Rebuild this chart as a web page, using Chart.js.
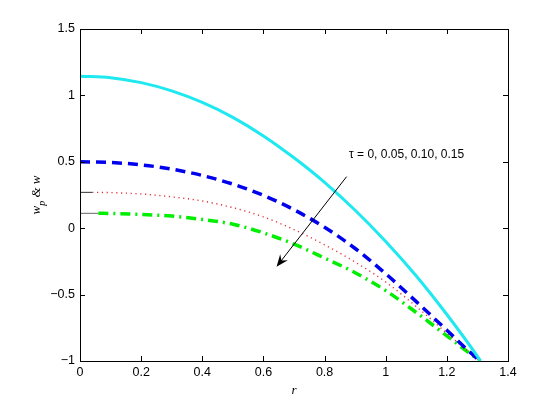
<!DOCTYPE html>
<html>
<head>
<meta charset="utf-8">
<script src="https://cdn.jsdelivr.net/npm/chart.js@4.4.1/dist/chart.umd.min.js"></script>
<style>
  html, body { margin: 0; padding: 0; background: #fff; }
  #wrap { width: 543px; height: 409px; }
</style>
</head>
<body>
<div id="wrap"><canvas id="chart" width="543" height="409"></canvas></div>
<script>
// values
const rAll = [0, 0.1, 0.2, 0.3, 0.4, 0.5, 0.6, 0.7, 0.8, 0.9, 1.0, 1.1, 1.2, 1.3, 1.31];
const tau0 = [1.145, 1.133, 1.096, 1.034, 0.947, 0.835, 0.695, 0.53, 0.345, 0.135, -0.10, -0.36, -0.65, -0.965, -1.0];
const tau05 = [0.50, 0.495, 0.477, 0.445, 0.397, 0.332, 0.247, 0.139, 0.007, -0.153, -0.343, -0.553, -0.768, -0.983, -1.0];

const rRed = [0.04, 0.1, 0.2, 0.3, 0.4, 0.5, 0.6, 0.7, 0.8, 0.9, 1.0, 1.1, 1.2, 1.3, 1.31];
const tau10 = [0.27, 0.268, 0.258, 0.236, 0.205, 0.155, 0.085, -0.01, -0.125, -0.255, -0.405, -0.59, -0.79, -0.985, -1.0];

const rGreen = [0.06, 0.1, 0.2, 0.3, 0.4, 0.5, 0.6, 0.7, 0.8, 0.9, 1.0, 1.1, 1.2, 1.3, 1.31];
const tau15 = [0.112, 0.111, 0.104, 0.091, 0.066, 0.03, -0.035, -0.12, -0.225, -0.335, -0.47, -0.635, -0.81, -0.985, -1.0];

// short thin leads at the left edge
const leadRedR = [0, 0.04];
const leadRedV = [0.27, 0.27];
const leadGreenR = [0, 0.06];
const leadGreenV = [0.112, 0.112];

const xTicks = [0, 0.2, 0.4, 0.6, 0.8, 1, 1.2, 1.4];
const yTicks = [-1, -0.5, 0, 0.5, 1, 1.5];

const noteText = 'τ = 0, 0.05, 0.10, 0.15';
const notePos = { x: 0.88, y: 0.55 };
const arrowFrom = { x: 0.872, y: 0.388 };
const arrowTo = { x: 0.643, y: -0.29 };

function pts(xs, ys) {
    return xs.map((x, i) => ({ x: x, y: ys[i] }));
}

const FONT = '"Liberation Sans", Arial, sans-serif';
const SERIF = '"Liberation Serif", "Times New Roman", serif';

// MATLAB-style box with inward ticks, labels and the arrow note
const axesPlugin = {
    id: 'axesPlugin',
    afterDraw(chart) {
        const ctx = chart.ctx;
        const a = chart.chartArea;
        const xs = chart.scales.x;
        const ys = chart.scales.y;
        ctx.save();
        ctx.strokeStyle = '#000';
        ctx.lineWidth = 1;
        ctx.strokeRect(a.left + 0.5, a.top + 0.5, a.right - a.left, a.bottom - a.top);

        ctx.beginPath();
        xTicks.forEach(t => {
            const px = Math.round(xs.getPixelForValue(t)) + 0.5;
            ctx.moveTo(px, a.bottom); ctx.lineTo(px, a.bottom - 5);
            ctx.moveTo(px, a.top); ctx.lineTo(px, a.top + 5);
        });
        yTicks.forEach(t => {
            const py = Math.round(ys.getPixelForValue(t)) + 0.5;
            ctx.moveTo(a.left, py); ctx.lineTo(a.left + 5, py);
            ctx.moveTo(a.right, py); ctx.lineTo(a.right - 5, py);
        });
        ctx.stroke();

        ctx.fillStyle = '#000';
        ctx.font = '12.5px ' + FONT;
        ctx.textAlign = 'center';
        ctx.textBaseline = 'top';
        xTicks.forEach(t => {
            ctx.fillText(String(t), xs.getPixelForValue(t), a.bottom + 5);
        });
        ctx.textAlign = 'right';
        ctx.textBaseline = 'middle';
        yTicks.forEach(t => {
            ctx.fillText(String(t).replace('-', '\u2212'), a.left - 5, ys.getPixelForValue(t));
        });

        // axis titles
        ctx.font = 'italic 13px ' + SERIF;
        ctx.textAlign = 'center';
        ctx.textBaseline = 'alphabetic';
        ctx.fillText('r', (a.left + a.right) / 2, a.bottom + 33);

        ctx.save();
        ctx.translate(40, (a.top + a.bottom) / 2);
        ctx.rotate(-Math.PI / 2);
        ctx.textAlign = 'left';
        const w1 = ctx.measureText('w').width;
        ctx.font = 'italic 10px ' + SERIF;
        const wp = ctx.measureText('p').width;
        ctx.font = 'italic 13px ' + SERIF;
        const w2 = ctx.measureText(' & w').width;
        let sx = -(w1 + wp + w2) / 2;
        ctx.fillText('w', sx, 0);
        ctx.font = 'italic 10px ' + SERIF;
        ctx.fillText('p', sx + w1, 5);
        ctx.font = 'italic 13px ' + SERIF;
        ctx.fillText(' & w', sx + w1 + wp, 0);
        ctx.restore();

        // note and arrow
        ctx.font = '12px ' + FONT;
        ctx.textAlign = 'left';
        ctx.textBaseline = 'middle';
        ctx.fillText(noteText, xs.getPixelForValue(notePos.x), ys.getPixelForValue(notePos.y));

        const x1 = xs.getPixelForValue(arrowFrom.x), y1 = ys.getPixelForValue(arrowFrom.y);
        const x2 = xs.getPixelForValue(arrowTo.x), y2 = ys.getPixelForValue(arrowTo.y);
        const ang = Math.atan2(y2 - y1, x2 - x1);
        ctx.beginPath();
        ctx.moveTo(x1, y1);
        ctx.lineTo(x2 - 6 * Math.cos(ang), y2 - 6 * Math.sin(ang));
        ctx.lineWidth = 1;
        ctx.stroke();
        const hl = 13, hw = 0.38;
        ctx.beginPath();
        ctx.moveTo(x2, y2);
        ctx.lineTo(x2 - hl * Math.cos(ang - hw), y2 - hl * Math.sin(ang - hw));
        ctx.lineTo(x2 - 8 * Math.cos(ang), y2 - 8 * Math.sin(ang));
        ctx.lineTo(x2 - hl * Math.cos(ang + hw), y2 - hl * Math.sin(ang + hw));
        ctx.closePath();
        ctx.fill();
        ctx.restore();
    }
};

const ctx = document.getElementById('chart').getContext('2d');
new Chart(ctx, {
    type: 'line',
    data: {
        datasets: [
            { data: pts(leadRedR, leadRedV), borderColor: '#333', borderWidth: 1 },
            { data: pts(leadGreenR, leadGreenV), borderColor: '#666', borderWidth: 1 },
            { data: pts(rAll, tau0), borderColor: '#1ee8f0', borderWidth: 3 },
            { data: pts(rAll, tau05), borderColor: '#0000ee', borderWidth: 3.5, borderDash: [10, 6] },
            { data: pts(rRed, tau10), borderColor: '#e0303a', borderWidth: 1.4, borderDash: [1.2, 3.6] },
            { data: pts(rGreen, tau15), borderColor: '#00ee00', borderWidth: 3.5, borderDash: [10, 5, 2, 5] }
        ]
    },
    options: {
        responsive: false,
        animation: false,
        layout: { padding: { top: 29, right: 35, left: 0, bottom: 0 } },
        elements: {
            point: { radius: 0 },
            line: { cubicInterpolationMode: 'monotone', fill: false }
        },
        plugins: { legend: { display: false }, tooltip: { enabled: false } },
        scales: {
            x: {
                type: 'linear', min: 0, max: 1.4,
                grid: { display: false }, border: { display: false },
                ticks: { display: false },
                afterFit(s) { s.height = 48; }
            },
            y: {
                type: 'linear', min: -1, max: 1.5,
                grid: { display: false }, border: { display: false },
                ticks: { display: false },
                afterFit(s) { s.width = 80; }
            }
        }
    },
    plugins: [axesPlugin]
});
</script>
</body>
</html>
